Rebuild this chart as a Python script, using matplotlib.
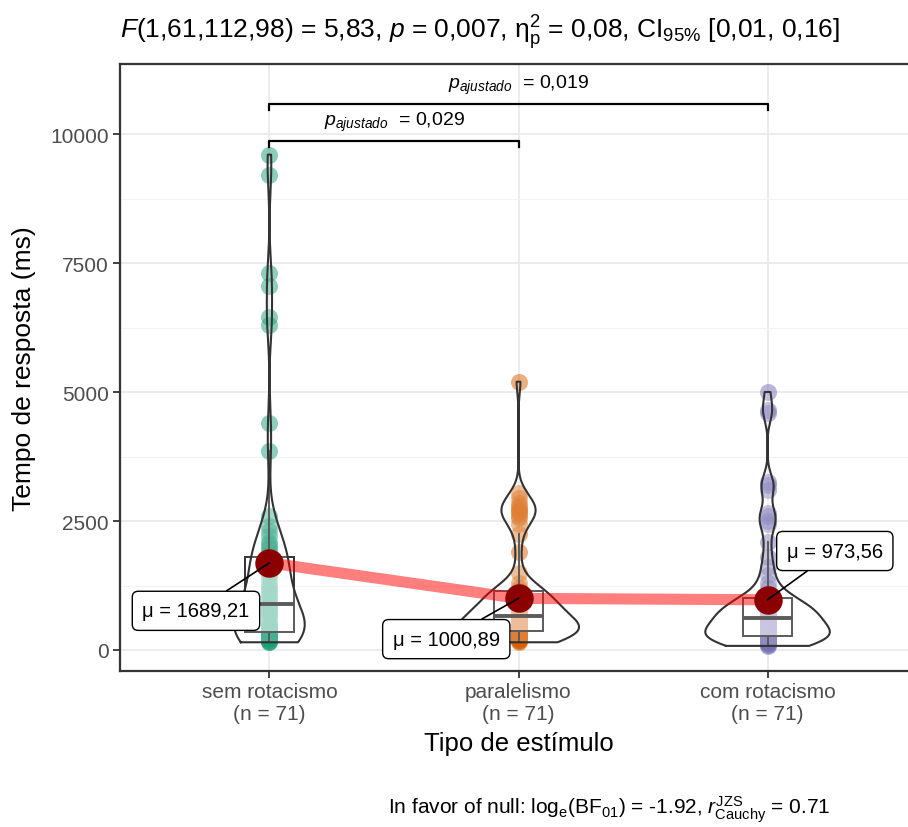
import numpy as np
import matplotlib
matplotlib.use("Agg")
import matplotlib.pyplot as plt
from matplotlib.patches import Rectangle

plt.rcParams['font.family'] = ['Liberation Sans', 'DejaVu Sans']
plt.rcParams['mathtext.fontset'] = 'custom'
plt.rcParams['mathtext.rm'] = 'Liberation Sans'
plt.rcParams['mathtext.it'] = 'Liberation Sans:italic'
plt.rcParams['mathtext.bf'] = 'Liberation Sans:bold'

# categories and response times (ms), 71 per condition
categories = ["sem rotacismo", "paralelismo", "com rotacismo"]
n_labels = ["(n = 71)", "(n = 71)", "(n = 71)"]
colors = ["#1B9E77", "#D95F02", "#7570B3"]

sem_rot = [150, 160, 180, 200, 210, 230, 240, 250, 260, 270, 280, 290, 300, 305, 310, 315, 320, 330,
           350, 380, 400, 420, 450, 480, 500, 550, 600, 650, 700, 720, 750, 780, 820, 850, 880,
           900,
           950, 1000, 1050, 1100, 1150, 1200, 1250, 1300, 1400, 1450, 1500, 1550, 1600, 1650, 1700, 1750, 1780,
           1820, 1880, 1950, 2000, 2050, 2100, 2200, 2300, 2400,
           2600, 3850, 4400, 6300, 6450, 7050, 7300, 9200, 9600]
paral = [150, 170, 190, 200, 220, 240, 250, 260, 270, 280, 290, 300, 310, 320, 330, 340, 345, 350,
         370, 390, 410, 430, 450, 470, 490, 510, 530, 550, 570, 590, 610, 620, 630, 640, 650,
         660,
         690, 720, 750, 780, 810, 840, 870, 900, 930, 960, 990, 1020, 1050, 1080, 1100, 1120, 1140,
         1150, 1200, 1300, 1500, 1900,
         2250, 2450, 2550, 2600, 2650, 2700, 2700, 2750, 2800, 2850, 2950, 3050, 5200]
com_rot = [80, 100, 120, 140, 150, 160, 170, 180, 190, 200, 210, 220, 230, 235, 240, 245, 250, 260,
           280, 300, 320, 340, 360, 380, 400, 420, 440, 460, 480, 500, 520, 540, 560, 580, 600,
           620,
           640, 660, 680, 700, 720, 740, 760, 780, 800, 820, 840, 860, 880, 900, 930, 960, 990,
           1020, 1100, 1200, 1300, 1450, 1600, 1800,
           2100, 2450, 2500, 2600, 2650, 3100, 3200, 3250, 4600, 4650, 5000]
groups = [sem_rot, paral, com_rot]

means = [1689.21, 1000.89, 973.56]
mean_labels = ["μ = 1689,21", "μ = 1000,89", "μ = 973,56"]
# label offsets from the mean point (x in category units, y in ms)
label_offsets = [(-0.295, -930), (-0.29, -790), (0.27, 945)]

pairs = [(1, 2), (1, 3)]
p_labels = [r"$p_{ajustado}$  = 0,029", r"$p_{ajustado}$  = 0,019"]
bracket_y = [9860, 10580]

title = (r"$F$(1,61,112,98) = 5,83, $p$ = 0,007, $\mathrm{\eta}_\mathrm{p}^2$ = 0,08, "
         r"CI$_{95\%}$ [0,01, 0,16]")
caption = (r"In favor of null: log$_\mathrm{e}$(BF$_{01}$) = -1.92, "
           r"$r_\mathrm{Cauchy}^\mathrm{JZS}$ = 0.71")


def nrd0(x):
    x = np.asarray(x, float)
    q75, q25 = np.percentile(x, [75, 25])
    lo = min(np.std(x, ddof=1), (q75 - q25) / 1.34)
    return 0.9 * lo * len(x) ** -0.2


def kde(x, grid):
    x = np.asarray(x, float)
    h = nrd0(x)
    z = (grid[:, None] - x[None, :]) / h
    return np.exp(-0.5 * z ** 2).sum(axis=1) / (len(x) * h * np.sqrt(2 * np.pi))


fig = plt.figure(figsize=(9.08, 8.28), dpi=100)
ax = fig.add_axes([120 / 908, 156 / 828, 797 / 908, 607 / 828])

ax.set_xlim(0.4, 3.6)
ax.set_ylim(-407, 11357)
xs = np.arange(1, len(categories) + 1)

# grid
ax.set_axisbelow(True)
ax.set_yticks([0, 2500, 5000, 7500, 10000])
ax.set_yticks([1250, 3750, 6250, 8750], minor=True)
ax.grid(True, which='major', color='#EBEBEB', lw=1.3)
ax.grid(True, which='minor', axis='y', color='#F3F3F3', lw=0.8)

# points
for x, vals, c in zip(xs, groups, colors):
    ax.scatter(np.full(len(vals), x), vals, s=150, color=c, alpha=0.5, lw=0, zorder=2)

# boxplots
for x, vals in zip(xs, groups):
    q1, med, q3 = np.percentile(vals, [25, 50, 75])
    iqr = q3 - q1
    v = np.asarray(vals)
    lo = v[v >= q1 - 1.5 * iqr].min()
    hi = v[v <= q3 + 1.5 * iqr].max()
    ax.add_patch(Rectangle((x - 0.1, q1), 0.2, q3 - q1, facecolor=(1, 1, 1, 0.5),
                           edgecolor='#333333', lw=1.4, zorder=3))
    ax.plot([x - 0.1, x + 0.1], [med, med], color='#333333', lw=2.8, zorder=3, solid_capstyle='butt')
    ax.plot([x, x], [q3, hi], color='#333333', lw=1.4, zorder=3)
    ax.plot([x, x], [lo, q1], color='#333333', lw=1.4, zorder=3)

# violins (scale = "area", width 0.5, trimmed)
dens = []
for vals in groups:
    grid = np.linspace(min(vals), max(vals), 512)
    dens.append((grid, kde(vals, grid)))
dmax = max(d.max() for _, d in dens)
for x, (grid, d) in zip(xs, dens):
    w = 0.25 * d / dmax
    ax.fill_betweenx(grid, x - w, x + w, facecolor=(1, 1, 1, 0.2), edgecolor='none', zorder=4)
    px = np.concatenate([x - w, (x + w)[::-1], [x - w[0]]])
    py = np.concatenate([grid, grid[::-1], [grid[0]]])
    ax.plot(px, py, color='#333333', lw=1.5, zorder=4)

# mean path, mean points, labels
ax.plot(xs, means, color='red', alpha=0.5, lw=8, zorder=5, solid_capstyle='butt')
ax.scatter(xs, means, s=420, color='#8B0000', zorder=6, lw=0)
for x, m, lab, (dx, dy) in zip(xs, means, mean_labels, label_offsets):
    ax.annotate(lab, xy=(x, m), xytext=(x + dx, m + dy), ha='center', va='center',
                fontsize=14.5, zorder=8,
                bbox=dict(boxstyle='round,pad=0.5,rounding_size=0.3', fc='white', ec='black', lw=1),
                arrowprops=dict(arrowstyle='-', color='black', lw=1.2, shrinkA=0, shrinkB=0))

# significance brackets
tip = 110
for (a, b), yb, lab in zip(pairs, bracket_y, p_labels):
    ax.plot([a, a, b, b], [yb - tip, yb, yb, yb - tip], color='black', lw=1.6, zorder=7)
    ax.text((a + b) / 2, yb + 160, lab, ha='center', va='bottom', fontsize=14, zorder=7)

# axes styling
for side in ['top', 'left', 'bottom']:
    ax.spines[side].set_color('#333333')
    ax.spines[side].set_linewidth(1.6)
ax.spines['right'].set_visible(False)
ax.set_xticks(xs)
ax.set_xticklabels([f"{c}\n{n}" for c, n in zip(categories, n_labels)])
ax.tick_params(axis='both', which='major', colors='#333333', length=5, width=1.3,
               labelsize=15, labelcolor='#4D4D4D', pad=3)
ax.tick_params(axis='both', which='minor', length=0)
ax.set_xlabel("Tipo de estímulo", fontsize=18.5, labelpad=6)
ax.set_ylabel("Tempo de resposta (ms)", fontsize=19, labelpad=10)

fig.text(120 / 908, 1 - 33 / 828, title, ha='left', va='center', fontsize=19)
fig.text(830 / 908, 1 - 810 / 828, caption, ha='right', va='center', fontsize=15)

fig.savefig("out.png", dpi=100)
